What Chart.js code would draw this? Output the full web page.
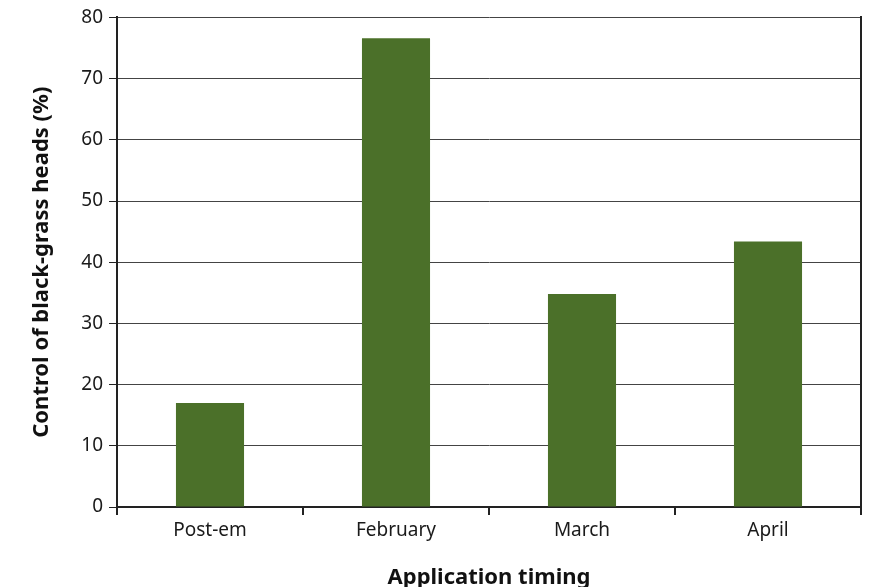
<!DOCTYPE html>
<html>
<head>
<meta charset="utf-8">
<script src="https://cdn.jsdelivr.net/npm/chart.js@4.4.0/dist/chart.umd.min.js"></script>
<style>
  html, body { margin: 0; padding: 0; background: #fff; }
  #wrap { width: 874px; height: 587px; }
</style>
</head>
<body>
<div id="wrap"><canvas id="timingChart" width="874" height="587"></canvas></div>
<script>
// data
const timings = ["Post-em", "February", "March", "April"];
const controlPct = [17.0, 76.6, 34.8, 43.4];
const yTicks = [0, 10, 20, 30, 40, 50, 60, 70, 80];

const font = "'Noto Sans', 'Open Sans', sans-serif";

const ctx = document.getElementById("timingChart").getContext("2d");
new Chart(ctx, {
    type: "bar",
    data: {
        labels: timings,
        datasets: [
            {
                label: "Control",
                data: controlPct,
                backgroundColor: "#4b7029",
                barPercentage: 0.366,
                categoryPercentage: 1.0,
            },
        ],
    },
    options: {
        responsive: false,
        animation: false,
        // the x title sits a little below the canvas box, hence the negative bottom padding
        layout: { padding: { top: 17, right: 13, left: 29, bottom: -8 } },
        plugins: { legend: { display: false }, tooltip: { enabled: false } },
        scales: {
            x: {
                grid: {
                    offset: true,
                    drawOnChartArea: false,
                    drawTicks: true,
                    tickLength: 8,
                    color: "#222",
                    lineWidth: 2,
                },
                border: { color: "#222", width: 2 },
                ticks: { color: "#1a1a1a", font: { family: font, size: 19 }, padding: 4 },
                title: {
                    display: true,
                    text: "Application timing",
                    color: "#111",
                    font: { family: font, size: 22, weight: "bold" },
                    padding: { top: 26 },
                },
                afterFit: (s) => { s.height = 88; },
            },
            y: {
                min: 0,
                max: 80,
                afterBuildTicks: (s) => { s.ticks = yTicks.map((v) => ({ value: v })); },
                grid: { color: "#444", lineWidth: 1, tickLength: 8, tickColor: "#222" },
                border: { color: "#222", width: 2 },
                ticks: { color: "#1a1a1a", font: { family: font, size: 19 }, padding: 6 },
                title: {
                    display: true,
                    text: "Control of black-grass heads (%)",
                    color: "#111",
                    font: { family: font, size: 22, weight: "bold" },
                    padding: 0,
                },
                afterFit: (s) => { s.width = 88; },
            },
            yRight: {
                position: "right",
                min: 0,
                max: 80,
                grid: { drawOnChartArea: false, drawTicks: false },
                border: { color: "#222", width: 2 },
                ticks: { display: false },
                afterFit: (s) => { s.width = 0; },
            },
        },
    },
});
</script>
</body>
</html>
